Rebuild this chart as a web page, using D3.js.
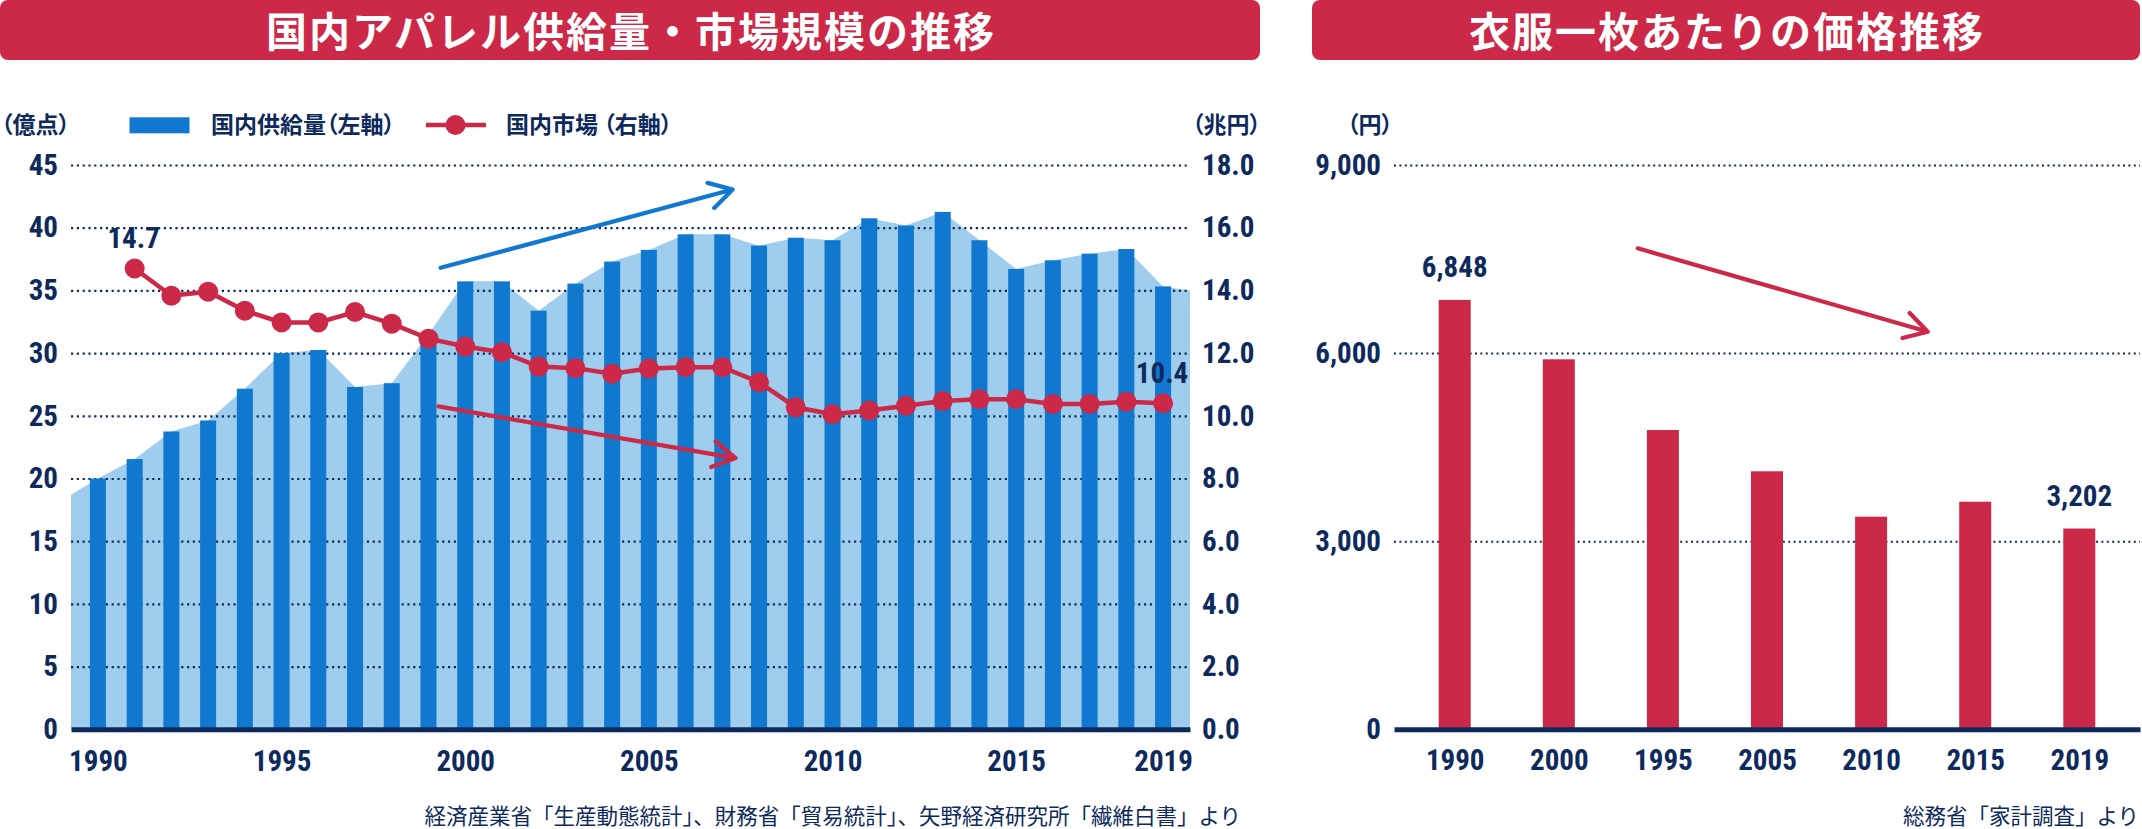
<!DOCTYPE html>
<html><head><meta charset="utf-8">
<script src="https://cdn.jsdelivr.net/npm/d3@7"></script>
<style>
html,body{margin:0;padding:0;background:#fff;}
svg{display:block;}
.num{font-family:"Liberation Sans Narrow","Roboto Condensed","DejaVu Sans Condensed",sans-serif;font-weight:700;fill:#0E2A5C;}
.jp{font-family:"Noto Sans CJK JP","Noto Sans",sans-serif;fill:#0E2A5C;}
.palt{font-feature-settings:"palt" 1;}
</style></head><body>
<svg id="c" width="2142" height="829"></svg>
<script>
// ---------------- DATA ----------------
const years = [1990,1991,1992,1993,1994,1995,1996,1997,1998,1999,2000,2001,2002,2003,2004,2005,2006,2007,2008,2009,2010,2011,2012,2013,2014,2015,2016,2017,2018,2019];
const supply = [20.0,21.55,23.75,24.63,27.16,30.0,30.25,27.3,27.6,31.5,35.72,35.72,33.38,35.54,37.3,38.23,39.47,39.47,38.57,39.2,39.0,40.75,40.17,41.26,39.0,36.71,37.4,37.93,38.3,35.32];
const supplyAreaEdges = [18.7, 35.0]; // area value at left / right plot edge
const marketYears = [1991,1992,1993,1994,1995,1996,1997,1998,1999,2000,2001,2002,2003,2004,2005,2006,2007,2008,2009,2010,2011,2012,2013,2014,2015,2016,2017,2018,2019];
const market = [14.7,13.83,13.96,13.35,12.98,12.98,13.31,12.94,12.46,12.21,12.03,11.57,11.52,11.34,11.51,11.55,11.55,11.07,10.27,10.05,10.17,10.32,10.47,10.53,10.53,10.38,10.38,10.45,10.4];
const xTickYears = [1990,1995,2000,2005,2010,2015,2019];
const leftTicks = [0,5,10,15,20,25,30,35,40,45];
const rightTicks = [0,2,4,6,8,10,12,14,16,18];
const priceCats = ["1990","2000","1995","2005","2010","2015","2019"];
const price = [6848,5901,4773,4115,3391,3630,3202];
const priceTicks = [0,3000,6000,9000];
// trend arrows in data units
const supplyArrow = [[1999.33,36.8],[2007.28,43.04]];   // [year, 億点]
const marketArrow = [[1999.27,10.30],[2007.36,8.65]];   // [year, 兆円]
const priceArrow = [[1.758,7671],[4.544,6341]];         // [category index, 円]

// ---------------- STYLE ----------------
const NAVY='#0E2A5C', RED='#CC2848', BLUE='#1078CE', LBLUE='#9ECDEE';
const svg = d3.select('#c');

function titleBar(x0,x1,text){
  svg.append('rect').attr('x',x0).attr('y',0).attr('width',x1-x0).attr('height',60).attr('rx',8).attr('fill',RED);
  svg.append('text').attr('class','jp').attr('x',(x0+x1)/2+1).attr('y',47)
    .attr('text-anchor','middle').style('fill','#fff').style('font-size','41px')
    .style('font-weight',700).style('letter-spacing','2px').text(text);
}
function arrow(g,p1,p2,color){
  const [x1,y1]=p1,[x2,y2]=p2;
  const a=Math.atan2(y2-y1,x2-x1), L=26, w=Math.PI/6;
  const path=d3.path();
  path.moveTo(x1,y1); path.lineTo(x2,y2);
  path.moveTo(x2-L*Math.cos(a-w),y2-L*Math.sin(a-w)); path.lineTo(x2,y2);
  path.lineTo(x2-L*Math.cos(a+w),y2-L*Math.sin(a+w));
  g.append('path').attr('d',path.toString()).attr('fill','none').attr('stroke',color)
   .attr('stroke-width',4.2).attr('stroke-linecap','round').attr('stroke-linejoin','round');
}
function styleAxis(g){
  g.select('.domain').remove();
  g.selectAll('text').attr('class','num').style('font-size','29px');
}
function label(x,y,text,anchor){
  return svg.append('text').attr('class','jp palt').attr('x',x).attr('y',y)
    .attr('text-anchor',anchor||'start').style('font-size','23px').style('font-weight',700).text(text);
}

titleBar(0,1260,'国内アパレル供給量・市場規模の推移');
titleBar(1312,2140,'衣服一枚あたりの価格推移');

// ---------------- LEFT CHART ----------------
const L={l:71,r:1190,t:165,b:729.3};
const x = d3.scalePoint().domain(years).range([L.l,L.r]).padding(0.733);
const xLin = d3.scaleLinear().domain([years[0],years[years.length-1]]).range([x(years[0]),x(years[years.length-1])]);
const yL = d3.scaleLinear().domain([0,45]).range([L.b,L.t]);
const yR = d3.scaleLinear().domain([0,18]).range([L.b,L.t]);
const gL = svg.append('g');

// area
const areaPts = [[L.l,supplyAreaEdges[0]]].concat(years.map((yr,i)=>[x(yr),supply[i]])).concat([[L.r,supplyAreaEdges[1]]]);
gL.append('path').datum(areaPts)
  .attr('d',d3.area().x(d=>d[0]).y0(yL(0)).y1(d=>yL(d[1])))
  .attr('fill',LBLUE);

// grid
const grid = gL.append('g').attr('transform',`translate(${L.l},0)`)
  .call(d3.axisLeft(yL).tickValues(leftTicks.filter(d=>d>0)).tickSize(-(L.r-L.l)).tickFormat(''));
grid.select('.domain').remove();
grid.selectAll('line').attr('stroke',NAVY).attr('stroke-width',2.2).attr('stroke-dasharray','2.2,3.6');

// bars
gL.append('g').selectAll('rect').data(years).join('rect')
  .attr('x',d=>x(d)-8).attr('width',16)
  .attr('y',(d,i)=>yL(supply[i])).attr('height',(d,i)=>yL(0)-yL(supply[i]))
  .attr('fill',BLUE);

// axes
const axL = gL.append('g').attr('transform',`translate(${L.l},0)`)
  .call(d3.axisLeft(yL).tickValues(leftTicks).tickSize(0).tickPadding(13));
styleAxis(axL);
const axR = gL.append('g').attr('transform',`translate(${L.r},0)`)
  .call(d3.axisRight(yR).tickValues(rightTicks).tickSize(0).tickPadding(12).tickFormat(d3.format('.1f')));
styleAxis(axR);
const axB = gL.append('g').attr('transform',`translate(0,${L.b})`)
  .call(d3.axisBottom(x).tickValues(xTickYears).tickSize(0).tickSizeOuter(0).tickPadding(21.5));
axB.selectAll('text').attr('class','num').style('font-size','29px');
axB.select('.domain').attr('stroke',NAVY).attr('stroke-width',5);

// arrows
arrow(gL, [xLin(supplyArrow[0][0]),yL(supplyArrow[0][1])], [xLin(supplyArrow[1][0]),yL(supplyArrow[1][1])], BLUE);
arrow(gL, [xLin(marketArrow[0][0]),yR(marketArrow[0][1])], [xLin(marketArrow[1][0]),yR(marketArrow[1][1])], RED);

// market line
gL.append('path').datum(marketYears.map((yr,i)=>[x(yr),yR(market[i])]))
  .attr('d',d3.line()).attr('fill','none').attr('stroke',RED).attr('stroke-width',4.5);
gL.append('g').selectAll('circle').data(marketYears).join('circle')
  .attr('cx',d=>x(d)).attr('cy',(d,i)=>yR(market[i])).attr('r',10).attr('fill',RED);
// end labels
[0,market.length-1].forEach(i=>{
  gL.append('text').attr('class','num').style('font-size','29px').attr('text-anchor','middle')
    .attr('x',x(marketYears[i])-1).attr('y',yR(market[i])-20).text(d3.format('.1f')(market[i]));
});

// legend & units
label(1,133,'（億点）');
svg.append('rect').attr('x',129.5).attr('y',117.3).attr('width',60).attr('height',16).attr('fill',BLUE);
label(211,133,'国内供給量（左軸）');
svg.append('line').attr('x1',426).attr('x2',486).attr('y1',125).attr('y2',125).attr('stroke',RED).attr('stroke-width',4.5);
svg.append('circle').attr('cx',455.5).attr('cy',125).attr('r',10).attr('fill',RED);
label(506,133,'国内市場 （右軸）');
label(1261,133,'（兆円）','end');

svg.append('text').attr('class','jp').attr('x',1241).attr('y',824).attr('text-anchor','end').style('font-size','21.5px')
  .text('経済産業省「生産動態統計」、財務省「貿易統計」、矢野経済研究所「繊維白書」より');

// ---------------- RIGHT CHART ----------------
const R={l:1394,r:2140,t:165,b:729.3};
const xP = d3.scalePoint().domain(priceCats).range([R.l,R.r]).padding(0.583);
const xPi = d3.scaleLinear().domain([0,priceCats.length-1]).range([xP(priceCats[0]),xP(priceCats[priceCats.length-1])]);
const yP = d3.scaleLinear().domain([0,9000]).range([R.b,R.t]);
const gR = svg.append('g');
const gridR = gR.append('g').attr('transform',`translate(${R.l},0)`)
  .call(d3.axisLeft(yP).tickValues(priceTicks.filter(d=>d>0)).tickSize(-(R.r-R.l)).tickFormat(''));
gridR.select('.domain').remove();
gridR.selectAll('line').attr('stroke',NAVY).attr('stroke-width',2).attr('stroke-dasharray','2,3.4');

gR.append('g').selectAll('rect').data(priceCats).join('rect')
  .attr('x',d=>xP(d)-16).attr('width',32)
  .attr('y',(d,i)=>yP(price[i])).attr('height',(d,i)=>yP(0)-yP(price[i]))
  .attr('fill',RED);

const axPL = gR.append('g').attr('transform',`translate(${R.l},0)`)
  .call(d3.axisLeft(yP).tickValues(priceTicks).tickSize(0).tickPadding(13).tickFormat(d3.format(',')));
styleAxis(axPL);
const axPB = gR.append('g').attr('transform',`translate(0,${R.b})`)
  .call(d3.axisBottom(xP).tickSize(0).tickSizeOuter(0).tickPadding(20));
axPB.selectAll('text').attr('class','num').style('font-size','29px');
axPB.select('.domain').attr('stroke',NAVY).attr('stroke-width',5);

[0,price.length-1].forEach(i=>{
  gR.append('text').attr('class','num').style('font-size','29px').attr('text-anchor','middle')
    .attr('x',xP(priceCats[i])).attr('y',yP(price[i])-23).text(d3.format(',')(price[i]));
});
arrow(gR,[xPi(priceArrow[0][0]),yP(priceArrow[0][1])],[xPi(priceArrow[1][0]),yP(priceArrow[1][1])],RED);

label(1347,133,'（円）');
svg.append('text').attr('class','jp').attr('x',2139).attr('y',824).attr('text-anchor','end').style('font-size','21.5px')
  .text('総務省「家計調査」より');
</script>
</body></html>
